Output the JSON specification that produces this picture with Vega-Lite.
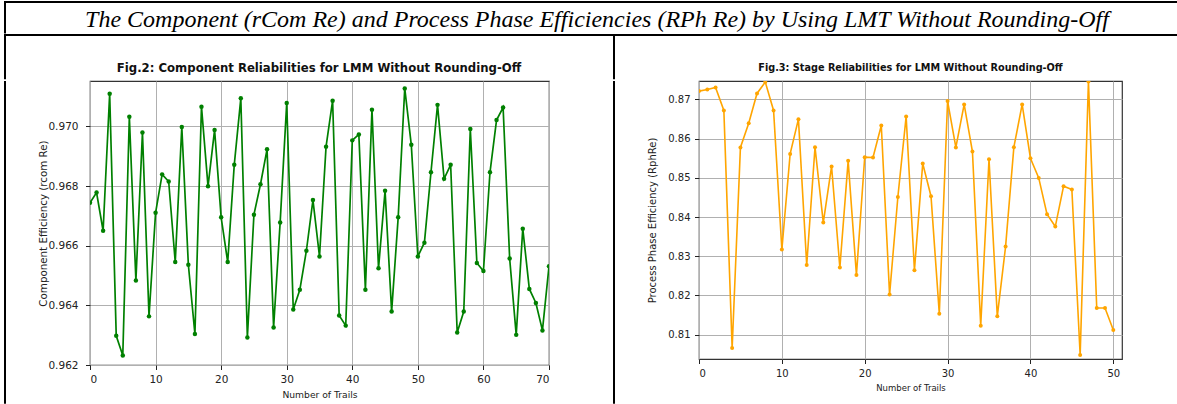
{
  "$schema": "https://vega.github.io/schema/vega-lite/v6.json",
  "background": "white",
  "padding": {"left": 4, "top": 1, "right": 0, "bottom": 0},
  "spacing": 0,
  "config": {
    "view": {"stroke": null},
    "axis": {
      "domain": false,
      "grid": true,
      "gridColor": "#b0b0b0",
      "gridWidth": 1,
      "tickColor": "#222",
      "tickSize": 4.5,
      "tickWidth": 1,
      "labelFont": "DejaVu Sans",
      "labelColor": "#222",
      "titleFont": "DejaVu Sans",
      "titleFontWeight": "normal",
      "titleColor": "#222"
    }
  },
  "datasets": {
    "one": [{"k": 1}],
    "comp": [
      {"trail": 0, "eff": 0.96744}, {"trail": 1, "eff": 0.96778}, {"trail": 2, "eff": 0.9665}, {"trail": 3, "eff": 0.97109},
      {"trail": 4, "eff": 0.96298}, {"trail": 5, "eff": 0.96232}, {"trail": 6, "eff": 0.97032}, {"trail": 7, "eff": 0.96483},
      {"trail": 8, "eff": 0.96979}, {"trail": 9, "eff": 0.96363}, {"trail": 10, "eff": 0.9671}, {"trail": 11, "eff": 0.96839},
      {"trail": 12, "eff": 0.96815}, {"trail": 13, "eff": 0.96545}, {"trail": 14, "eff": 0.96998}, {"trail": 15, "eff": 0.96536},
      {"trail": 16, "eff": 0.96304}, {"trail": 17, "eff": 0.97066}, {"trail": 18, "eff": 0.96799}, {"trail": 19, "eff": 0.96988},
      {"trail": 20, "eff": 0.96695}, {"trail": 21, "eff": 0.96545}, {"trail": 22, "eff": 0.96871}, {"trail": 23, "eff": 0.97094},
      {"trail": 24, "eff": 0.96292}, {"trail": 25, "eff": 0.96704}, {"trail": 26, "eff": 0.96806}, {"trail": 27, "eff": 0.96923},
      {"trail": 28, "eff": 0.96326}, {"trail": 29, "eff": 0.96678}, {"trail": 30, "eff": 0.97078}, {"trail": 31, "eff": 0.96386},
      {"trail": 32, "eff": 0.96452}, {"trail": 33, "eff": 0.96583}, {"trail": 34, "eff": 0.96753}, {"trail": 35, "eff": 0.96564},
      {"trail": 36, "eff": 0.96932}, {"trail": 37, "eff": 0.97086}, {"trail": 38, "eff": 0.96366}, {"trail": 39, "eff": 0.96332},
      {"trail": 40, "eff": 0.96953}, {"trail": 41, "eff": 0.96973}, {"trail": 42, "eff": 0.96452}, {"trail": 43, "eff": 0.97056},
      {"trail": 44, "eff": 0.96524}, {"trail": 45, "eff": 0.96784}, {"trail": 46, "eff": 0.96379}, {"trail": 47, "eff": 0.96695},
      {"trail": 48, "eff": 0.97127}, {"trail": 49, "eff": 0.96938}, {"trail": 50, "eff": 0.96564}, {"trail": 51, "eff": 0.9661},
      {"trail": 52, "eff": 0.96846}, {"trail": 53, "eff": 0.97072}, {"trail": 54, "eff": 0.96824}, {"trail": 55, "eff": 0.96871},
      {"trail": 56, "eff": 0.96309}, {"trail": 57, "eff": 0.96379}, {"trail": 58, "eff": 0.96991}, {"trail": 59, "eff": 0.96542},
      {"trail": 60, "eff": 0.96515}, {"trail": 61, "eff": 0.96846}, {"trail": 62, "eff": 0.97021}, {"trail": 63, "eff": 0.97063},
      {"trail": 64, "eff": 0.96557}, {"trail": 65, "eff": 0.96301}, {"trail": 66, "eff": 0.96657}, {"trail": 67, "eff": 0.96455},
      {"trail": 68, "eff": 0.96408}, {"trail": 69, "eff": 0.96316}, {"trail": 70, "eff": 0.96531}
    ],
    "stage": [
      {"trail": 0, "eff": 0.87212}, {"trail": 1, "eff": 0.87255}, {"trail": 2, "eff": 0.87306}, {"trail": 3, "eff": 0.86719},
      {"trail": 4, "eff": 0.80658}, {"trail": 5, "eff": 0.85775}, {"trail": 6, "eff": 0.86395}, {"trail": 7, "eff": 0.87153},
      {"trail": 8, "eff": 0.87442}, {"trail": 9, "eff": 0.86719}, {"trail": 10, "eff": 0.83171}, {"trail": 11, "eff": 0.85611},
      {"trail": 12, "eff": 0.86497}, {"trail": 13, "eff": 0.82777}, {"trail": 14, "eff": 0.85782}, {"trail": 15, "eff": 0.8386},
      {"trail": 16, "eff": 0.8529}, {"trail": 17, "eff": 0.82711}, {"trail": 18, "eff": 0.85433}, {"trail": 19, "eff": 0.82522},
      {"trail": 20, "eff": 0.85527}, {"trail": 21, "eff": 0.8552}, {"trail": 22, "eff": 0.86336}, {"trail": 23, "eff": 0.82022},
      {"trail": 24, "eff": 0.84513}, {"trail": 25, "eff": 0.86566}, {"trail": 26, "eff": 0.82642}, {"trail": 27, "eff": 0.85366},
      {"trail": 28, "eff": 0.84531}, {"trail": 29, "eff": 0.81537}, {"trail": 30, "eff": 0.86957}, {"trail": 31, "eff": 0.85775},
      {"trail": 32, "eff": 0.86872}, {"trail": 33, "eff": 0.85672}, {"trail": 34, "eff": 0.8123}, {"trail": 35, "eff": 0.85476},
      {"trail": 36, "eff": 0.81468}, {"trail": 37, "eff": 0.83247}, {"trail": 38, "eff": 0.85782}, {"trail": 39, "eff": 0.86872},
      {"trail": 40, "eff": 0.85501}, {"trail": 41, "eff": 0.84999}, {"trail": 42, "eff": 0.84072}, {"trail": 43, "eff": 0.83758},
      {"trail": 44, "eff": 0.84787}, {"trail": 45, "eff": 0.84702}, {"trail": 46, "eff": 0.8048}, {"trail": 47, "eff": 0.8746},
      {"trail": 48, "eff": 0.8168}, {"trail": 49, "eff": 0.8168}, {"trail": 50, "eff": 0.81118}
    ]
  },
  "vconcat": [
    {
      "width": 1173, "height": 2,
      "view": {"fill": "black", "stroke": null},
      "data": {"name": "one"},
      "mark": {"type": "point", "size": 0, "opacity": 0},
      "encoding": {}
    },
    {
      "spacing": 0,
      "hconcat": [
        {
          "width": 2, "height": 30.5,
          "view": {"fill": "black", "stroke": null},
          "data": {"name": "one"},
          "mark": {"type": "point", "size": 0, "opacity": 0},
          "encoding": {}
        },
        {
          "width": 1171, "height": 30.5,
          "data": {"name": "one"},
          "mark": {
            "type": "text",
            "text": "The Component (rCom Re) and Process Phase Efficiencies (RPh Re)  by Using LMT Without Rounding-Off",
            "font": "Liberation Serif",
            "fontStyle": "italic",
            "fontSize": 24,
            "color": "black",
            "align": "center",
            "baseline": "alphabetic",
            "dx": 5.5,
            "dy": 8.5
          },
          "encoding": {}
        }
      ]
    },
    {
      "width": 1173, "height": 2,
      "view": {"fill": "black", "stroke": null},
      "data": {"name": "one"},
      "mark": {"type": "point", "size": 0, "opacity": 0},
      "encoding": {}
    },
    {
      "columns": 4,
      "align": "each",
      "spacing": {"row": 0, "column": 32},
      "concat": [
        {
          "width": 2, "height": 43.2,
          "view": {"fill": "black", "stroke": null},
          "data": {"name": "one"},
          "mark": {"type": "point", "size": 0, "opacity": 0},
          "encoding": {}
        },
        {
          "width": 491, "height": 43.2,
          "data": {"name": "one"},
          "mark": {
            "type": "text",
            "text": "Fig.2: Component Reliabilities for LMM Without Rounding-Off",
            "font": "DejaVu Sans", "fontWeight": "bold", "fontSize": 11.7,
            "color": "#111", "align": "center", "baseline": "middle",
            "dx": -16.5, "dy": 10
          },
          "encoding": {}
        },
        {
          "width": 2, "height": 43.2,
          "view": {"fill": "black", "stroke": null},
          "data": {"name": "one"},
          "mark": {"type": "point", "size": 0, "opacity": 0},
          "encoding": {}
        },
        {
          "width": 423, "height": 43.2,
          "data": {"name": "one"},
          "mark": {
            "type": "text",
            "text": "Fig.3: Stage Reliabilities for LMM Without Rounding-Off",
            "font": "DejaVu Sans", "fontWeight": "bold", "fontSize": 9.7,
            "color": "#111", "align": "center", "baseline": "middle",
            "dy": 10
          },
          "encoding": {}
        },
        {
          "width": 2, "height": 322.7,
          "view": {"fill": "black", "stroke": null},
          "data": {"name": "one"},
          "mark": {"type": "point", "size": 0, "opacity": 0},
          "encoding": {}
        },
        {
          "width": 459, "height": 284,
          "view": {"stroke": "#333", "strokeWidth": 1.2},
          "data": {"name": "comp"},
          "mark": {"type": "line", "color": "green", "strokeWidth": 1.7, "clip": true,
                   "point": {"filled": true, "size": 20, "color": "green"}},
          "encoding": {
            "x": {"field": "trail", "type": "quantitative",
                  "scale": {"domain": [0, 70], "nice": false, "zero": false},
                  "axis": {"values": [0, 10, 20, 30, 40, 50, 60, 70], "title": "Number of Trails",
                           "labelFontSize": 10.5, "labelPadding": 5, "titleFontSize": 9.2, "titlePadding": 5}},
            "y": {"field": "eff", "type": "quantitative",
                  "scale": {"domain": [0.962, 0.97152], "nice": false, "zero": false},
                  "axis": {"values": [0.962, 0.964, 0.966, 0.968, 0.97], "format": ".3f",
                           "title": "Component Efficiency (rcom Re)",
                           "labelFontSize": 10.5, "labelPadding": 7.5, "titleFontSize": 10.3, "titlePadding": -1}}
          }
        },
        {
          "width": 2, "height": 322.7,
          "view": {"fill": "black", "stroke": null},
          "data": {"name": "one"},
          "mark": {"type": "point", "size": 0, "opacity": 0},
          "encoding": {}
        },
        {
          "width": 423, "height": 278,
          "view": {"stroke": "#333", "strokeWidth": 1.2},
          "data": {"name": "stage"},
          "mark": {"type": "line", "color": "orange", "strokeWidth": 1.6, "clip": true,
                   "point": {"filled": true, "size": 16, "color": "orange"}},
          "encoding": {
            "x": {"field": "trail", "type": "quantitative",
                  "scale": {"domain": [0, 51.05], "nice": false, "zero": false},
                  "axis": {"values": [0, 10, 20, 30, 40, 50], "title": "Number of Trails",
                           "labelFontSize": 10, "labelPadding": 5, "titleFontSize": 8.5, "titlePadding": 5}},
            "y": {"field": "eff", "type": "quantitative",
                  "scale": {"domain": [0.8038, 0.8747], "nice": false, "zero": false},
                  "axis": {"values": [0.81, 0.82, 0.83, 0.84, 0.85, 0.86, 0.87], "format": ".2f",
                           "title": "Process Phase Efficiency (RphRe)",
                           "labelFontSize": 10, "labelPadding": 4.5, "titleFontSize": 10, "titlePadding": 10}}
          }
        }
      ]
    },
    {
      "width": 1173, "height": 2,
      "view": {"fill": "black", "stroke": null},
      "data": {"name": "one"},
      "mark": {"type": "point", "size": 0, "opacity": 0},
      "encoding": {}
    }
  ]
}
